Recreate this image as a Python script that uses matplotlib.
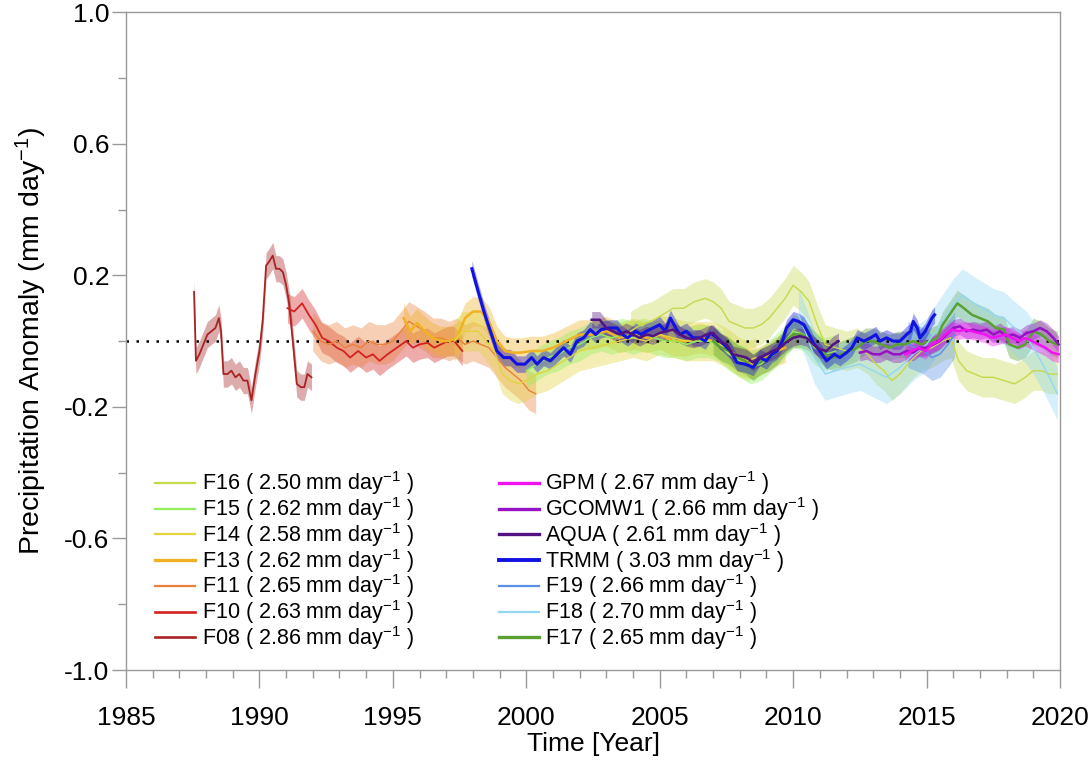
import matplotlib
matplotlib.use("Agg")
import matplotlib.pyplot as plt
from matplotlib.lines import Line2D
import numpy as np

# ---------------- datos ----------------
f08_t = [1987.55, 1987.62, 1987.75, 1987.9, 1988.05, 1988.2, 1988.35, 1988.48, 1988.56, 1988.65, 1988.8, 1988.95,
         1989.1, 1989.25, 1989.4, 1989.55, 1989.7, 1989.85, 1990.0, 1990.12, 1990.25, 1990.35, 1990.5, 1990.62,
         1990.75, 1990.88, 1991.0, 1991.12, 1991.25, 1991.4, 1991.55, 1991.68, 1991.8, 1991.95]
f08_v = [0.15, -0.06, -0.04, -0.01, 0.02, 0.03, 0.04, 0.07, 0.03, -0.10, -0.10, -0.09,
         -0.11, -0.10, -0.12, -0.12, -0.18, -0.10, -0.03, 0.06, 0.23, 0.24, 0.26, 0.22,
         0.22, 0.21, 0.17, 0.11, 0.00, -0.13, -0.14, -0.14, -0.10, -0.11]

f10_t = [1991.05, 1991.3, 1991.6, 1991.85, 1992.1, 1992.35, 1992.6, 1992.9, 1993.15, 1993.4, 1993.7, 1994.0,
         1994.25, 1994.5, 1994.8, 1995.15, 1995.5, 1995.75, 1996.0, 1996.3, 1996.55, 1996.8, 1997.05, 1997.3, 1997.6]
f10_v = [0.10, 0.09, 0.115, 0.08, 0.05, 0.01, 0.0, -0.02, -0.03, -0.05, -0.03, -0.05,
         -0.04, -0.06, -0.04, -0.02, 0.0, -0.02, -0.01, -0.005, -0.02, -0.01, 0.0, 0.0, -0.03]

f11_t = [1992.0, 1992.3, 1992.6, 1992.9, 1993.2, 1993.5, 1993.8, 1994.1, 1994.4, 1994.7, 1995.0, 1995.3,
         1995.6, 1995.9, 1996.2, 1996.5, 1996.8, 1997.1, 1997.4, 1997.7, 1998.0, 1998.3, 1998.6, 1998.9,
         1999.2, 1999.5, 1999.8, 2000.1, 2000.35]
f11_v = [0.03, 0.0, -0.01, 0.0, -0.02, -0.01, -0.02, 0.0, -0.01, -0.01, 0.0, 0.03,
         0.06, 0.045, 0.03, 0.01, 0.01, 0.0, 0.01, -0.01, 0.0, -0.01, -0.02, -0.05,
         -0.08, -0.10, -0.12, -0.15, -0.16]

f13_t = [1995.4, 1995.65, 1995.9, 1996.2, 1996.5, 1996.8, 1997.1, 1997.4, 1997.7, 1998.0, 1998.3, 1998.6,
         1998.9, 1999.2, 1999.5, 1999.8, 2000.2, 2000.6, 2001.0, 2001.5, 2002.0, 2002.5, 2003.0, 2003.5,
         2004.0, 2004.5, 2005.0, 2005.5, 2006.0, 2006.5, 2007.0, 2007.5, 2008.0, 2008.5, 2009.0, 2009.4, 2009.7]
f13_v = [0.07, 0.03, 0.055, 0.03, 0.01, 0.0, 0.0, 0.01, 0.07, 0.09, 0.09, 0.06,
         0.0, -0.03, -0.035, -0.035, -0.03, -0.03, -0.02, 0.0, 0.02, 0.02, 0.03, 0.01,
         0.02, 0.01, 0.02, 0.0, 0.0, 0.01, 0.0, -0.03, -0.06, -0.07, -0.05, -0.03, -0.02]

f14_t = [1997.3, 1997.6, 1997.9, 1998.2, 1998.5, 1998.8, 1999.1, 1999.4, 1999.7, 2000.0, 2000.4, 2000.8,
         2001.2, 2001.6, 2002.0, 2002.5, 2003.0, 2003.5, 2004.0, 2004.5, 2005.0, 2005.5, 2006.0, 2006.5,
         2007.0, 2007.5, 2008.0, 2008.3, 2008.6]
f14_v = [0.0, 0.03, 0.03, 0.03, 0.0, -0.03, -0.10, -0.12, -0.13, -0.12, -0.10, -0.09,
         -0.07, -0.05, -0.03, -0.02, -0.01, 0.0, 0.01, 0.0, 0.02, 0.01, 0.0, 0.0,
         0.0, -0.02, -0.05, -0.06, -0.05]

f15_t = [2000.0, 2000.4, 2000.8, 2001.2, 2001.6, 2002.0, 2002.4, 2002.8, 2003.2, 2003.6, 2004.0, 2004.4,
         2004.8, 2005.2, 2005.6, 2006.0, 2006.4, 2006.8, 2007.2, 2007.6, 2008.0, 2008.4, 2008.8, 2009.2,
         2009.6, 2010.0, 2010.4, 2010.8, 2011.2, 2011.6]
f15_v = [-0.09, -0.07, -0.05, -0.04, -0.02, -0.01, 0.01, 0.02, 0.01, 0.02, 0.01, 0.02,
         0.01, 0.0, 0.0, -0.01, 0.0, 0.0, -0.01, -0.04, -0.06, -0.08, -0.07, -0.04,
         -0.01, 0.03, 0.02, -0.02, -0.04, -0.03]

f16_t = [2003.9, 2004.3, 2004.7, 2005.1, 2005.5, 2005.9, 2006.3, 2006.7, 2007.0, 2007.3, 2007.6, 2007.9,
         2008.2, 2008.5, 2008.8, 2009.1, 2009.4, 2009.7, 2010.0, 2010.3, 2010.6, 2010.9, 2011.2, 2011.6,
         2012.0, 2012.4, 2012.8, 2013.1, 2013.4, 2013.7, 2014.0, 2014.4, 2014.8, 2015.2, 2015.6, 2015.9,
         2016.2, 2016.5, 2016.8, 2017.1, 2017.5, 2017.9, 2018.3, 2018.7, 2019.0, 2019.3, 2019.6, 2019.9]
f16_v = [0.03, 0.05, 0.06, 0.08, 0.10, 0.10, 0.12, 0.13, 0.12, 0.10, 0.06, 0.05,
         0.04, 0.04, 0.05, 0.07, 0.10, 0.13, 0.17, 0.15, 0.12, 0.05, -0.01, -0.02,
         -0.03, -0.02, -0.04, -0.07, -0.09, -0.12, -0.10, -0.06, -0.03, -0.02, 0.0, 0.01,
         -0.06, -0.09, -0.10, -0.11, -0.11, -0.12, -0.13, -0.11, -0.09, -0.09, -0.10, -0.10]

f17_t = [2007.0, 2007.3, 2007.6, 2007.9, 2008.2, 2008.5, 2008.8, 2009.1, 2009.4, 2009.7, 2010.0, 2010.3,
         2010.6, 2010.9, 2011.2, 2011.5, 2011.8, 2012.1, 2012.4, 2012.7, 2013.0, 2013.3, 2013.6, 2013.9,
         2014.2, 2014.5, 2014.8, 2015.1, 2015.4, 2015.6, 2015.9, 2016.15, 2016.4, 2016.7, 2017.0, 2017.3,
         2017.6, 2017.9, 2018.1, 2018.4, 2018.7, 2019.0, 2019.3, 2019.6, 2019.9]
f17_v = [0.0, -0.02, -0.03, -0.05, -0.06, -0.08, -0.06, -0.05, -0.03, 0.0, 0.02, 0.02,
         0.01, -0.02, -0.04, -0.05, -0.04, -0.03, -0.02, 0.0, 0.0, -0.01, -0.02, -0.01,
         -0.01, 0.0, -0.01, 0.0, 0.01, 0.05, 0.085, 0.115, 0.10, 0.08, 0.07, 0.06,
         0.04, 0.035, -0.01, -0.02, -0.01, 0.03, 0.02, 0.0, -0.01]

f18_t = [2010.2, 2010.5, 2010.8, 2011.2, 2011.6, 2012.0, 2012.5, 2013.0, 2013.5, 2014.0, 2014.5, 2015.0,
         2015.5, 2016.0, 2016.35, 2016.7, 2017.1, 2017.5, 2017.9, 2018.3, 2018.75, 2019.0, 2019.35, 2019.6, 2019.9]
f18_v = [0.08, 0.02, -0.05, -0.10, -0.09, -0.08, -0.07, -0.09, -0.11, -0.08, -0.04, -0.01,
         0.05, 0.11, 0.14, 0.12, 0.10, 0.08, 0.07, 0.04, 0.01, -0.02, -0.07, -0.11, -0.16]

f19_t = [2014.3, 2014.6, 2014.9, 2015.2, 2015.5, 2015.8, 2016.05]
f19_v = [-0.01, -0.02, -0.03, -0.05, -0.04, -0.01, 0.02]

trmm_t = [1997.96, 1998.2, 1998.45, 1998.7, 1998.9, 1999.15, 1999.4, 1999.65, 1999.95, 2000.2, 2000.4, 2000.65,
          2000.9, 2001.15, 2001.4, 2001.65, 2001.9, 2002.15, 2002.4, 2002.6, 2002.8, 2003.1, 2003.4, 2003.6,
          2003.8, 2004.1, 2004.3, 2004.5, 2004.75, 2005.0, 2005.2, 2005.4, 2005.6, 2005.75, 2006.0, 2006.25,
          2006.5, 2006.7, 2006.9, 2007.15, 2007.4, 2007.65, 2007.9, 2008.2, 2008.5, 2008.75, 2009.0, 2009.2,
          2009.4, 2009.6, 2009.75, 2010.0, 2010.2, 2010.4, 2010.6, 2010.75, 2011.0, 2011.25, 2011.4, 2011.55,
          2011.75, 2012.0, 2012.2, 2012.4, 2012.65, 2012.9, 2013.1, 2013.25, 2013.5, 2013.75, 2014.0, 2014.25,
          2014.4, 2014.5, 2014.65, 2014.75, 2014.95, 2015.2, 2015.3]
trmm_v = [0.22, 0.15, 0.08, 0.02, -0.03, -0.05, -0.05, -0.07, -0.07, -0.05, -0.07, -0.05,
          -0.06, -0.04, -0.02, -0.04, 0.0, 0.01, 0.035, 0.02, 0.035, 0.04, 0.04, 0.02,
          0.01, 0.03, 0.02, 0.03, 0.04, 0.05, 0.03, 0.07, 0.04, 0.02, 0.03, 0.01,
          0.01, 0.0, 0.025, 0.01, -0.01, -0.03, -0.065, -0.07, -0.08, -0.05, -0.06, -0.04,
          -0.03, 0.0, 0.04, 0.065, 0.06, 0.05, 0.02, -0.005, -0.03, -0.06, -0.05, -0.04,
          -0.05, -0.035, -0.02, 0.01, 0.0, 0.01, 0.02, 0.0, 0.01, 0.0, 0.0, 0.02,
          0.03, 0.06, 0.04, 0.01, 0.03, 0.07, 0.08]

aqua_t = [2002.45, 2002.75, 2003.0, 2003.25, 2003.5, 2003.75, 2004.0, 2004.25, 2004.5, 2004.75, 2005.0, 2005.25,
          2005.5, 2005.75, 2006.0, 2006.25, 2006.5, 2006.75, 2007.0, 2007.25, 2007.5, 2007.75, 2008.0, 2008.25,
          2008.5, 2008.75, 2009.0, 2009.25, 2009.5, 2009.75, 2010.0, 2010.25, 2010.5, 2010.75, 2011.0, 2011.25,
          2011.5, 2011.7]
aqua_v = [0.065, 0.065, 0.04, 0.03, 0.02, 0.03, 0.02, 0.01, 0.02, 0.015, 0.025, 0.03,
          0.035, 0.02, 0.01, 0.005, 0.01, 0.02, 0.025, 0.0, -0.01, -0.04, -0.045, -0.05,
          -0.065, -0.05, -0.04, -0.03, -0.02, -0.003, 0.01, 0.015, 0.01, -0.01, -0.025, -0.03,
          -0.01, 0.0]

gcomw1_t = [2012.5, 2012.75, 2013.0, 2013.25, 2013.5, 2013.75, 2014.0, 2014.25, 2014.5, 2014.75, 2015.0, 2015.25,
            2015.5, 2015.75, 2016.0, 2016.25, 2016.5, 2016.75, 2017.0, 2017.25, 2017.5, 2017.75, 2018.0, 2018.25,
            2018.5, 2018.75, 2019.0, 2019.25, 2019.5, 2019.75, 2019.95]
gcomw1_v = [-0.035, -0.03, -0.04, -0.04, -0.03, -0.04, -0.04, -0.03, -0.035, -0.02, -0.02, -0.01,
            0.0, 0.02, 0.04, 0.045, 0.03, 0.035, 0.03, 0.035, 0.02, 0.03, 0.015, 0.02,
            0.01, 0.025, 0.03, 0.04, 0.03, 0.01, -0.01]

gpm_t = [2014.2, 2014.45, 2014.7, 2014.95, 2015.2, 2015.45, 2015.7, 2015.95, 2016.2, 2016.45, 2016.7, 2016.95,
         2017.2, 2017.45, 2017.7, 2017.95, 2018.2, 2018.45, 2018.7, 2018.95, 2019.2, 2019.45, 2019.7, 2019.95]
gpm_v = [-0.04, -0.03, -0.02, -0.03, -0.01, 0.0, 0.02, 0.035, 0.03, 0.035, 0.03, 0.025,
         0.02, 0.01, 0.015, 0.02, 0.01, 0.0, 0.01, 0.0, -0.01, -0.02, -0.035, -0.04]

# nombre, media (mm/dia) y semi-anchura de la banda sombreada
sensores = ["F08", "F10", "F11", "F13", "F14", "F15", "F16", "F17", "F18", "F19", "TRMM", "AQUA", "GCOMW1", "GPM"]
medias = ["2.86", "2.63", "2.65", "2.62", "2.58", "2.62", "2.50", "2.65", "2.70", "2.66", "3.03", "2.61", "2.66", "2.67"]
banda = [0.04, 0.045, 0.06, 0.045, 0.06, 0.05, 0.06, 0.04, 0.08, 0.07, 0.025, 0.025, 0.025, 0.025]

series = {
    "F08": (f08_t, f08_v), "F10": (f10_t, f10_v), "F11": (f11_t, f11_v), "F13": (f13_t, f13_v),
    "F14": (f14_t, f14_v), "F15": (f15_t, f15_v), "F16": (f16_t, f16_v), "F17": (f17_t, f17_v),
    "F18": (f18_t, f18_v), "F19": (f19_t, f19_v), "TRMM": (trmm_t, trmm_v), "AQUA": (aqua_t, aqua_v),
    "GCOMW1": (gcomw1_t, gcomw1_v), "GPM": (gpm_t, gpm_v),
}

# estilos
colores = {
    "F16": "#c6d84c", "F15": "#8ff05c", "F14": "#e3d43e", "F13": "#f0b224", "F11": "#e8823a",
    "F10": "#d42222", "F08": "#a82424", "GPM": "#f012f0", "GCOMW1": "#9612c4", "AQUA": "#521282",
    "TRMM": "#1212e0", "F19": "#5a90e8", "F18": "#92d8f2", "F17": "#5aa032",
}
grosor = {
    "F16": 1.0, "F15": 1.0, "F14": 1.0, "F13": 1.8, "F11": 1.0, "F10": 1.3, "F08": 1.3,
    "GPM": 1.8, "GCOMW1": 1.8, "AQUA": 1.8, "TRMM": 2.2, "F19": 1.0, "F18": 1.0, "F17": 1.8,
}
orden_leyenda = ["F16", "F15", "F14", "F13", "F11", "F10", "F08",
                 "GPM", "GCOMW1", "AQUA", "TRMM", "F19", "F18", "F17"]

plt.rcParams['font.family'] = ['Liberation Sans', 'DejaVu Sans']
plt.rcParams['mathtext.default'] = 'regular'

fig, ax = plt.subplots(figsize=(10.92, 7.64), dpi=100)
fig.subplots_adjust(left=0.1154, right=0.9707, top=0.984, bottom=0.123)

# bandas primero, lineas encima
for nombre, err in zip(sensores, banda):
    t, v = series[nombre]
    t = np.array(t)
    v = np.array(v)
    ax.fill_between(t, v - err, v + err, color=colores[nombre], alpha=0.38, lw=0)

for nombre in sensores:
    t, v = series[nombre]
    ax.plot(t, v, color=colores[nombre], lw=grosor[nombre], zorder=3)

ax.axhline(0, color="black", ls=(0, (1, 3)), lw=1.8, zorder=2)

ax.set_xlim(1985, 2020)
ax.set_ylim(-1.0, 1.0)
ax.set_xticks(range(1985, 2021, 5))
ax.set_xticks(range(1985, 2021), minor=True)
ax.set_yticks([-1.0, -0.6, -0.2, 0.2, 0.6, 1.0])
ax.set_yticklabels(["-1.0", "-0.6", "-0.2", "0.2", "0.6", "1.0"])
ax.set_yticks([-0.8, -0.4, 0.0, 0.4, 0.8], minor=True)

ax.tick_params(axis="x", which="major", length=13, width=1, color="#999999", labelsize=19, pad=13)
ax.tick_params(axis="x", which="minor", length=6, width=1, color="#999999")
ax.tick_params(axis="y", which="major", length=10, width=1, color="#999999", labelsize=19, pad=2)
ax.tick_params(axis="y", which="minor", length=6, width=1, color="#999999")
for s in ax.spines.values():
    s.set_color("#999999")
    s.set_linewidth(1)

ax.set_xlabel("Time [Year]", fontsize=19, labelpad=1)
ax.set_ylabel("Precipitation Anomaly (mm day$^{-1}$)", fontsize=20.5, labelpad=11)

# leyenda en dos columnas
manejadores = []
etiquetas = []
for nombre in orden_leyenda:
    i = sensores.index(nombre)
    manejadores.append(Line2D([], [], color=colores[nombre], lw=grosor[nombre] + 0.6))
    etiquetas.append(f"{nombre} ( {medias[i]} mm day$^{{-1}}$ )")

ax.legend(manejadores, etiquetas, ncol=2, loc="upper left", bbox_to_anchor=(0.022, 0.318),
          frameon=False, fontsize=15.5, handlelength=1.86, handletextpad=0.3,
          labelspacing=-0.1, columnspacing=3.95, borderaxespad=0)

fig.savefig("out.png", dpi=100)
